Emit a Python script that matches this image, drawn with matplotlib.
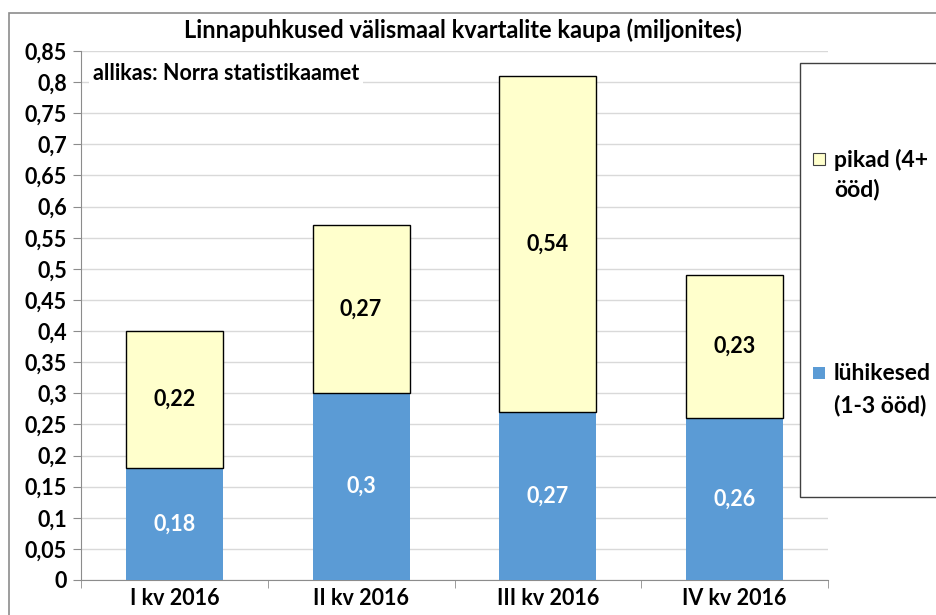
import matplotlib
matplotlib.use("Agg")
import matplotlib.pyplot as plt
from matplotlib.patches import Rectangle

plt.rcParams['font.family'] = ['Lato', 'DejaVu Sans']
plt.rcParams['font.weight'] = 'bold'

quarters = ["I kv 2016", "II kv 2016", "III kv 2016", "IV kv 2016"]
short_trips = [0.18, 0.30, 0.27, 0.26]   # lühikesed (1-3 ööd)
long_trips = [0.22, 0.27, 0.54, 0.23]    # pikad (4+ ööd)
yticks = [i * 0.05 for i in range(18)]
ytick_labels = ["0", "0,05", "0,1", "0,15", "0,2", "0,25", "0,3", "0,35", "0,4",
                "0,45", "0,5", "0,55", "0,6", "0,65", "0,7", "0,75", "0,8", "0,85"]

blue = "#5B9BD5"
yellow = "#FFFFCC"

W, H = 936, 615
fig = plt.figure(figsize=(W / 100, H / 100), dpi=100)

# outer chart frame (runs off the right / bottom edge like the source)
fig.patches.append(Rectangle((9 / W, -0.1), 1.1, (615 - 13) / H + 0.1,
                             transform=fig.transFigure, fill=False,
                             edgecolor="#8c8c8c", lw=1.2, zorder=0))

ax = fig.add_axes([81 / W, (H - 580) / H, (828 - 81) / W, (580 - 51) / H])
x = range(len(quarters))
ax.bar(x, short_trips, width=0.52, color=blue, zorder=3)
ax.bar(x, long_trips, width=0.52, bottom=short_trips, color=yellow,
       edgecolor="black", lw=1.0, zorder=3)

for i in x:
    ax.text(i, short_trips[i] / 2, f"{short_trips[i]:g}".replace(".", ","),
            ha="center", va="center", color="white", fontsize=15.5, weight="bold", zorder=4)
    ax.text(i, short_trips[i] + long_trips[i] / 2, f"{long_trips[i]:g}".replace(".", ","),
            ha="center", va="center", color="black", fontsize=15.5, weight="bold", zorder=4)

ax.set_xlim(-0.5, len(quarters) - 0.5)
ax.set_ylim(0, 0.85)
ax.set_yticks(yticks)
ax.set_yticklabels(ytick_labels, fontsize=15.5, weight="bold")
ax.set_xticks(list(x))
ax.set_xticklabels(quarters, fontsize=15.5, weight="bold")
ax.set_xticks([i + 0.5 for i in range(-1, len(quarters))], minor=True)
ax.tick_params(axis="x", which="major", length=0, pad=6)
ax.tick_params(axis="x", which="minor", length=6, color="#8c8c8c")
ax.tick_params(axis="y", length=6, color="#8c8c8c", pad=4)
ax.grid(axis="y", color="#d9d9d9", lw=1.0, zorder=0)
for s in ["top", "right"]:
    ax.spines[s].set_visible(False)
for s in ["left", "bottom"]:
    ax.spines[s].set_color("#8c8c8c")

fig.text(463 / W, 1 - 30 / H, "Linnapuhkused välismaal kvartalite kaupa (miljonites)",
         ha="center", va="center", fontsize=17, weight="bold")
fig.text(93 / W, 1 - 73 / H, "allikas: Norra statistikaamet", ha="left", va="center",
         fontsize=15.5, weight="bold",
         bbox=dict(facecolor="white", edgecolor="none", pad=3), zorder=5)

# legend box
fig.patches.append(Rectangle((800 / W, 1 - 497 / H), 0.3, (497 - 63) / H,
                             transform=fig.transFigure, facecolor="white",
                             edgecolor="#404040", lw=1.0, zorder=5))
fig.patches.append(Rectangle((813 / W, 1 - 165 / H), 12 / W, 12 / H,
                             transform=fig.transFigure, facecolor=yellow,
                             edgecolor="#404040", lw=0.8, zorder=6))
fig.text(834 / W, 1 - 160 / H, "pikad (4+", ha="left", va="center",
         fontsize=16.5, weight="bold", zorder=6)
fig.text(834 / W, 1 - 190 / H, "ööd)", ha="left", va="center",
         fontsize=16.5, weight="bold", zorder=6)
fig.patches.append(Rectangle((813 / W, 1 - 379 / H), 12 / W, 12 / H,
                             transform=fig.transFigure, facecolor=blue,
                             edgecolor="none", zorder=6))
fig.text(834 / W, 1 - 373 / H, "lühikesed", ha="left", va="center",
         fontsize=16.5, weight="bold", zorder=6)
fig.text(834 / W, 1 - 405 / H, "(1-3 ööd)", ha="left", va="center",
         fontsize=16.5, weight="bold", zorder=6)

fig.savefig("out.png", dpi=100)
